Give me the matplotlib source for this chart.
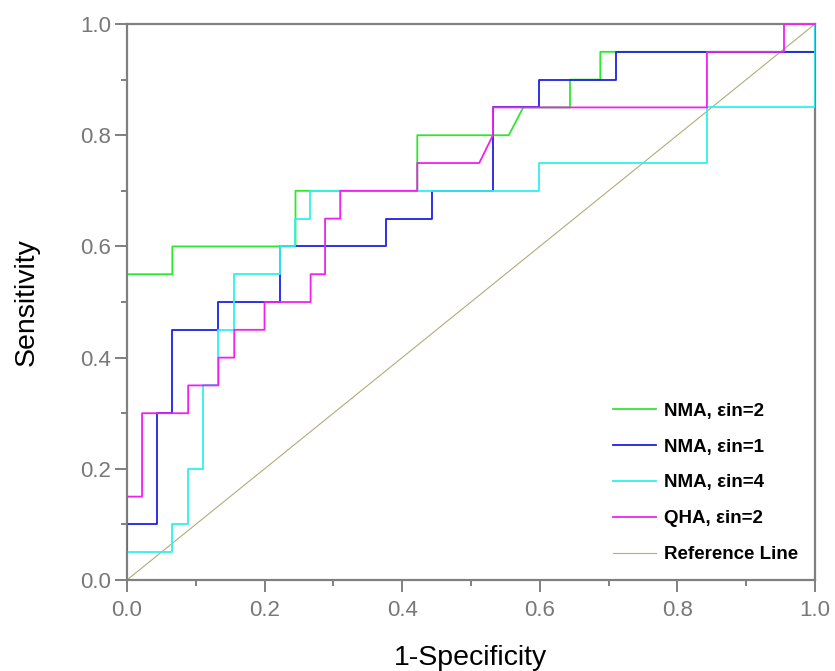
import matplotlib.pyplot as plt
from matplotlib.ticker import MultipleLocator

# ROC curves (x = 1-specificity, y = sensitivity)
nma2_x = [0, 0, 0.066, 0.066, 0.245, 0.245, 0.422, 0.422, 0.555, 0.576, 0.644, 0.644, 0.688, 0.688, 1.0, 1.0]
nma2_y = [0, 0.55, 0.55, 0.6, 0.6, 0.7, 0.7, 0.8, 0.8, 0.85, 0.85, 0.9, 0.9, 0.95, 0.95, 1.0]

nma1_x = [0, 0, 0.044, 0.044, 0.066, 0.066, 0.133, 0.133, 0.222, 0.222, 0.377, 0.377,
          0.444, 0.444, 0.532, 0.532, 0.599, 0.599, 0.711, 0.711, 1.0, 1.0]
nma1_y = [0, 0.1, 0.1, 0.3, 0.3, 0.45, 0.45, 0.5, 0.5, 0.6, 0.6, 0.65,
          0.65, 0.7, 0.7, 0.85, 0.85, 0.9, 0.9, 0.95, 0.95, 1.0]

nma4_x = [0, 0, 0.066, 0.066, 0.089, 0.089, 0.111, 0.111, 0.133, 0.133, 0.156, 0.156,
          0.222, 0.222, 0.245, 0.245, 0.266, 0.266, 0.599, 0.599, 0.843, 0.843, 1.0, 1.0]
nma4_y = [0, 0.05, 0.05, 0.1, 0.1, 0.2, 0.2, 0.35, 0.35, 0.45, 0.45, 0.55,
          0.55, 0.6, 0.6, 0.65, 0.65, 0.7, 0.7, 0.75, 0.75, 0.85, 0.85, 1.0]

qha2_x = [0, 0, 0.022, 0.022, 0.089, 0.089, 0.133, 0.133, 0.156, 0.156, 0.2, 0.2, 0.267, 0.267,
          0.288, 0.288, 0.31, 0.31, 0.422, 0.422, 0.512, 0.532, 0.532, 0.843, 0.843, 0.955, 0.955, 1.0]
qha2_y = [0, 0.15, 0.15, 0.3, 0.3, 0.35, 0.35, 0.4, 0.4, 0.45, 0.45, 0.5, 0.5, 0.55,
          0.55, 0.65, 0.65, 0.7, 0.7, 0.75, 0.75, 0.8, 0.85, 0.85, 0.95, 0.95, 1.0, 1.0]

ref_x = [0, 1]
ref_y = [0, 1]

labels = ["NMA, \u03b5in=2", "NMA, \u03b5in=1", "NMA, \u03b5in=4", "QHA, \u03b5in=2", "Reference Line"]

plt.rcParams['font.family'] = ['Liberation Sans', 'DejaVu Sans']

fig = plt.figure(figsize=(8.35, 6.71), dpi=100)
ax = fig.add_axes([0.152, 0.1356, 0.824, 0.8286])

lw = 1.3
ax.plot(ref_x, ref_y, color='#b0ad78', lw=0.8, label=labels[4], zorder=1)
ax.plot(nma2_x, nma2_y, color='#2ee82e', lw=lw, label=labels[0], zorder=2)
ax.plot(nma1_x, nma1_y, color='#2020e6', lw=lw, label=labels[1], zorder=3)
ax.plot(nma4_x, nma4_y, color='#30f0f0', lw=lw, label=labels[2], zorder=4)
ax.plot(qha2_x, qha2_y, color='#f020f0', lw=lw, label=labels[3], zorder=5)

ax.set_xlim(0, 1)
ax.set_ylim(0, 1)
ax.xaxis.set_major_locator(MultipleLocator(0.2))
ax.xaxis.set_minor_locator(MultipleLocator(0.1))
ax.yaxis.set_major_locator(MultipleLocator(0.2))
ax.yaxis.set_minor_locator(MultipleLocator(0.1))

grey = '#808080'
for s in ax.spines.values():
    s.set_color(grey)
    s.set_linewidth(1.6)
ax.tick_params(which='both', direction='out', colors=grey, width=1.4,
               top=False, right=False)
ax.tick_params(which='major', length=8.5, labelsize=16, labelcolor='#787878')
ax.tick_params(which='minor', length=4.5)
ax.tick_params(axis='x', which='major', pad=6)
ax.tick_params(axis='y', which='major', pad=3)

ax.set_xlabel("1-Specificity", fontsize=20.5, labelpad=17)
ax.set_ylabel("Sensitivity", fontsize=20.5, labelpad=29)

handles, labs = ax.get_legend_handles_labels()
order = [1, 2, 3, 4, 0]
leg = ax.legend([handles[i] for i in order], [labs[i] for i in order],
                loc='lower right', frameon=False,
                prop={'weight': 'bold', 'size': 13.5},
                handlelength=2.25, handletextpad=0.45, labelspacing=1.0,
                borderaxespad=0.5, bbox_to_anchor=(1.0, 0.0))

fig.savefig("out.png", dpi=100)
